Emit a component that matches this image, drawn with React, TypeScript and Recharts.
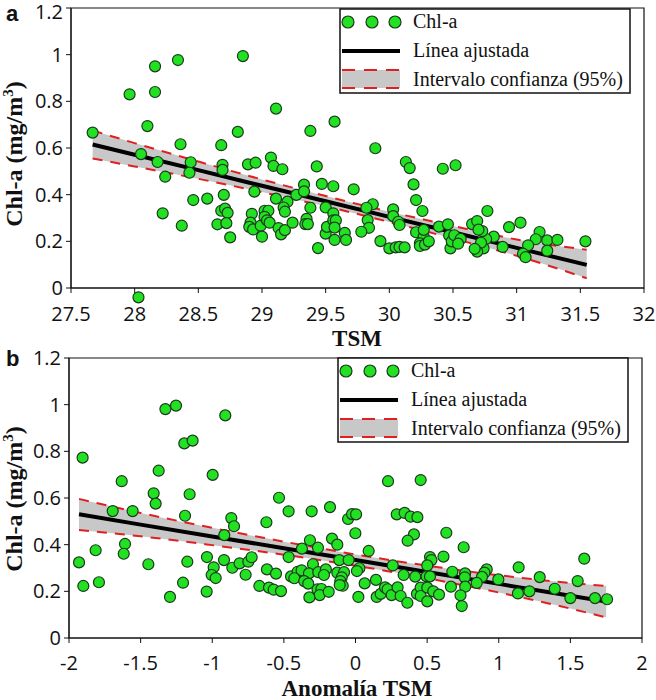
import { ComposedChart, Scatter, Line, Area, XAxis, YAxis, ReferenceArea, ReferenceDot } from "recharts";

// ---- panel a: Chl-a vs TSM ----
const tsmX = [
  27.67, 27.96, 28.16, 28.16, 28.34, 28.1, 28.05, 28.18, 28.24, 28.22, 28.36, 28.44, 28.43, 28.37, 28.46, 28.57,
  28.85, 28.81, 28.68, 28.69, 28.69, 28.7, 28.68, 28.71, 28.73, 28.65, 28.72, 28.75, 28.89, 28.95, 28.94, 28.92,
  28.91, 28.9, 28.93, 28.99, 29.0, 29.11, 29.07, 29.09, 29.16, 29.11, 29.02, 29.05, 29.02, 29.04, 29.06, 29.13,
  29.15, 29.18, 29.2, 29.17, 29.18, 29.24, 29.27, 29.38, 29.43, 29.33, 29.33, 29.38, 29.35, 29.34, 29.36, 29.44,
  29.47, 29.5, 29.5, 29.51, 28.03,
  29.57, 29.89, 30.13, 30.16, 30.42, 30.52, 29.56, 29.72, 30.19, 30.21, 30.26, 30.03, 29.87, 29.82, 29.83, 29.84,
  29.78, 29.93, 30.0, 30.05, 30.08, 30.12, 30.03, 30.07, 30.08, 30.21, 30.27, 30.27, 30.24, 30.24, 30.28, 30.31,
  30.39, 30.46, 30.47, 30.48, 30.49, 30.51, 29.56, 29.56, 29.58, 29.57, 29.57, 29.65, 29.66,
  30.77, 30.65, 30.69, 30.94, 31.03, 31.18, 31.24, 31.32, 31.54, 31.15, 31.09, 31.05, 31.07, 31.24, 30.89, 30.82,
  30.76, 30.73, 30.7, 30.74, 30.72, 30.69, 30.67, 30.56, 30.54,
];
const tsmChl = [
  0.666, 0.83, 0.95, 0.84, 0.977, 0.694, 0.574, 0.54, 0.477, 0.32, 0.616, 0.539, 0.494, 0.267, 0.377, 0.383,
  0.994, 0.669, 0.612, 0.528, 0.506, 0.399, 0.331, 0.34, 0.322, 0.273, 0.278, 0.217, 0.53, 0.537, 0.413, 0.318,
  0.28, 0.262, 0.251, 0.267, 0.22, 0.769, 0.559, 0.523, 0.509, 0.383, 0.331, 0.331, 0.305, 0.29, 0.28, 0.257,
  0.23, 0.248, 0.37, 0.345, 0.327, 0.28, 0.399, 0.673, 0.521, 0.443, 0.414, 0.344, 0.296, 0.274, 0.274, 0.171,
  0.446, 0.345, 0.233, 0.262, -0.04,
  0.713, 0.599, 0.54, 0.514, 0.511, 0.526, 0.436, 0.423, 0.444, 0.377, 0.33, 0.337, 0.359, 0.344, 0.291, 0.258,
  0.241, 0.201, 0.17, 0.174, 0.176, 0.174, 0.308, 0.284, 0.27, 0.239, 0.22, 0.249, 0.191, 0.18, 0.186, 0.2,
  0.263, 0.273, 0.225, 0.17, 0.2, 0.226, 0.32, 0.29, 0.29, 0.259, 0.206, 0.236, 0.206,
  0.33, 0.274, 0.287, 0.261, 0.28, 0.24, 0.204, 0.206, 0.2, 0.209, 0.183, 0.147, 0.132, 0.16, 0.176, 0.22,
  0.21, 0.244, 0.25, 0.17, 0.194, 0.156, 0.168, 0.21, 0.19,
];
const tsmFitX = [27.67, 28, 28.5, 29, 29.5, 30, 30.5, 31, 31.55];
const tsmFit = [0.615, 0.571, 0.505, 0.438, 0.372, 0.305, 0.239, 0.172, 0.099];
const tsmLo = [0.555, 0.521, 0.468, 0.411, 0.35, 0.283, 0.212, 0.138, 0.042];
const tsmHi = [0.675, 0.621, 0.542, 0.465, 0.394, 0.327, 0.266, 0.208, 0.164];
const tsmTicks = [27.5, 28, 28.5, 29, 29.5, 30, 30.5, 31, 31.5, 32];

// ---- panel b: Chl-a vs TSM anomaly ----
const anomX = [
  -1.327, -1.253, -0.909, -1.905, -1.195, -1.137, -1.374, -1.632, -0.997, -1.409, -1.395, -1.158, -1.695, -1.556,
  -1.19, -0.867, -0.848, -0.916, -0.622, -1.609, -1.814, -1.618, -1.93, -1.446, -1.174, -1.037, -0.918, -0.99,
  -1.004, -0.976, -0.86, -0.809, -0.748, -0.725, -0.767, -0.618, -1.9, -1.791, -1.204, -1.039, -1.295, -0.671,
  -0.604,
  0.227, 0.455, -0.534, -0.467, -0.306, -0.178, -0.052, -0.024, 0.004, 0.288, 0.343, 0.385, 0.432, -0.001, 0.408,
  0.364, -0.318, -0.164, -0.127, -0.262, -0.374, 0.092, 0.52, 0.53, -0.467, -0.113, -0.048, -0.297, 0.26, 0.501,
  0.027, 0.01, -0.555, -0.45, -0.404, -0.376, -0.325, -0.26, -0.207, -0.22, -0.127, -0.08, -0.096, 0.336, 0.417,
  0.496, 0.52, -0.427, -0.358, -0.33, -0.106, -0.089, -0.11, 0.143, 0.064, -0.571, -0.52, -0.265, -0.238, -0.25,
  -0.187, -0.322, 0.02, 0.148, 0.176, 0.206, 0.224, 0.252, 0.294, 0.315, 0.362, 0.429, 0.455, 0.455, 0.501, 0.501,
  0.543, 0.583,
  0.634, 0.755, 0.614, 1.597, 0.676, 0.765, 0.763, 0.916, 0.9, 0.883, 0.846, 0.997, 1.139, 1.286, 1.551, 1.391,
  1.214, 1.134, 1.5, 1.672, 1.756, 0.666, 0.766, 0.733, 0.742,
];
const anomChl = [
  0.981, 0.996, 0.954, 0.773, 0.834, 0.846, 0.717, 0.672, 0.699, 0.62, 0.576, 0.616, 0.544, 0.544,
  0.524, 0.514, 0.479, 0.441, 0.496, 0.403, 0.376, 0.361, 0.324, 0.316, 0.327, 0.347, 0.334, 0.303,
  0.27, 0.257, 0.301, 0.32, 0.327, 0.346, 0.271, 0.294, 0.223, 0.239, 0.237, 0.199, 0.176, 0.223,
  0.216,
  0.672, 0.677, 0.601, 0.543, 0.543, 0.561, 0.51, 0.531, 0.53, 0.53, 0.536, 0.52, 0.518, 0.449, 0.444,
  0.417, 0.419, 0.426, 0.4, 0.387, 0.383, 0.373, 0.347, 0.334, 0.347, 0.334, 0.334, 0.316, 0.311, 0.311,
  0.299, 0.287, 0.276, 0.264, 0.284, 0.29, 0.277, 0.282, 0.294, 0.27, 0.28, 0.282, 0.26, 0.27, 0.263,
  0.264, 0.264, 0.256, 0.244, 0.233, 0.244, 0.224, 0.227, 0.249, 0.234, 0.207, 0.201, 0.208, 0.21, 0.184,
  0.198, 0.174, 0.176, 0.176, 0.189, 0.217, 0.209, 0.184, 0.217, 0.18, 0.151, 0.189, 0.216, 0.18, 0.216, 0.157,
  0.2, 0.186,
  0.451, 0.389, 0.349, 0.34, 0.284, 0.277, 0.26, 0.294, 0.28, 0.262, 0.236, 0.251, 0.303, 0.261, 0.244, 0.211,
  0.2, 0.191, 0.171, 0.171, 0.166, 0.22, 0.22, 0.183, 0.137,
];
const anomFitX = [-1.93, -1.5, -1, -0.5, 0, 0.5, 1, 1.5, 1.75];
const anomFit = [0.53, 0.486, 0.435, 0.385, 0.334, 0.283, 0.232, 0.181, 0.156];
const anomLo = [0.463, 0.436, 0.398, 0.357, 0.31, 0.256, 0.195, 0.126, 0.088];
const anomHi = [0.596, 0.536, 0.472, 0.413, 0.358, 0.31, 0.269, 0.236, 0.223];
const anomTicks = [-2, -1.5, -1, -0.5, 0, 0.5, 1, 1.5, 2];

const chlTicks = [0, 0.2, 0.4, 0.6, 0.8, 1, 1.2];

const GREEN = "#22e022";
const DOT_STROKE = "#1b3a1b";
const SERIF = "'Liberation Serif', 'Times New Roman', serif";
const TICK_FONT = "'Open Sans', sans-serif";

const GreenDot = (props: any) => (
  <circle cx={props.cx} cy={props.cy} r={5.5} fill={GREEN} stroke={DOT_STROKE} strokeWidth={1.2} />
);

interface PanelProps {
  letter: string;
  xLabel: string;
  xs: number[];
  ys: number[];
  fitX: number[];
  fit: number[];
  lo: number[];
  hi: number[];
  xTicks: number[];
  top: number;
  height: number;
  marginTop: number;
  marginRight: number;
  yAxisWidth: number;
  xAxisHeight: number;
  tickMargin: number;
  legendLeft: number;
  legendTop: number;
  xLabelY: number;
}

const LegendBox = ({ left, top }: { left: number; top: number }) => {
  const rows = [top + 19, top + 48, top + 77];
  return (
    <g>
      <rect x={left} y={top} width={290} height={84} fill="#fff" stroke="#111" strokeWidth={1.5} />
      {[8, 32, 55].map((dx) => (
        <circle key={dx} cx={left + dx} cy={rows[0] - 6} r={6} fill={GREEN} stroke={DOT_STROKE} strokeWidth={1.2} />
      ))}
      <line x1={left + 2} x2={left + 60} y1={rows[1] - 6} y2={rows[1] - 6} stroke="#000" strokeWidth={4} />
      <rect x={left + 2} y={rows[2] - 16} width={58} height={18} fill="#c8c8c8" />
      <line x1={left + 2} x2={left + 60} y1={rows[2] - 16} y2={rows[2] - 16} stroke="#e02020" strokeWidth={2} strokeDasharray="13 9" />
      <line x1={left + 2} x2={left + 60} y1={rows[2] + 2} y2={rows[2] + 2} stroke="#e02020" strokeWidth={2} strokeDasharray="13 9" />
      {["Chl-a", "Línea ajustada", "Intervalo confianza (95%)"].map((t, i) => (
        <text key={t} x={left + 73} y={rows[i]} fontFamily={SERIF} fontSize={20} fill="#111">
          {t}
        </text>
      ))}
    </g>
  );
};

const Panel = (p: PanelProps) => {
  const points = p.xs.map((x, i) => ({ x, y: p.ys[i] }));
  const inside = points.filter((d) => d.y >= 0);
  const below = points.filter((d) => d.y < 0);
  const band = p.fitX.map((x, i) => ({ x, fit: p.fit[i], lo: p.lo[i], hi: p.hi[i], range: [p.lo[i], p.hi[i]] }));
  const xMin = p.xTicks[0];
  const xMax = p.xTicks[p.xTicks.length - 1];

  return (
    <div style={{ position: "absolute", left: 0, top: p.top, width: 656, height: p.height }}>
      <ComposedChart
        width={656}
        height={p.height}
        margin={{ top: p.marginTop, right: p.marginRight, bottom: 0, left: 0 }}
        style={{ overflow: "visible" }}
      >
        <XAxis
          type="number"
          dataKey="x"
          domain={[xMin, xMax]}
          ticks={p.xTicks}
          allowDataOverflow
          height={p.xAxisHeight}
          tickSize={5}
          tickMargin={p.tickMargin}
          stroke="#111"
          tick={{ fill: "#111", fontSize: 20, fontFamily: TICK_FONT }}
        />
        <YAxis
          type="number"
          dataKey="y"
          domain={[0, 1.2]}
          ticks={chlTicks}
          allowDataOverflow
          width={p.yAxisWidth}
          tickSize={5}
          tickMargin={3}
          stroke="#111"
          tick={{ fill: "#111", fontSize: 20, fontFamily: TICK_FONT }}
        />
        <Area
          data={band}
          dataKey="range"
          type="monotone"
          fill="#c8c8c8"
          fillOpacity={1}
          stroke="none"
          isAnimationActive={false}
        />
        <Scatter data={inside} shape={GreenDot} isAnimationActive={false} />
        <Line data={band} dataKey="hi" type="monotone" stroke="#e02020" strokeWidth={2} strokeDasharray="10 8" dot={false} isAnimationActive={false} />
        <Line data={band} dataKey="lo" type="monotone" stroke="#e02020" strokeWidth={2} strokeDasharray="10 8" dot={false} isAnimationActive={false} />
        <Line data={band} dataKey="fit" type="linear" stroke="#000" strokeWidth={4} dot={false} isAnimationActive={false} />
        {below.map((d, i) => (
          <ReferenceDot
            key={i}
            x={d.x}
            y={d.y}
            r={5.5}
            fill={GREEN}
            stroke={DOT_STROKE}
            strokeWidth={1.2}
            ifOverflow="visible"
          />
        ))}
        <ReferenceArea x1={xMin} x2={xMax} y1={0} y2={1.2} fill="none" stroke="#111" strokeWidth={1.2} />
      </ComposedChart>
      <svg
        width={656}
        height={p.height + 20}
        style={{ position: "absolute", left: 0, top: 0, pointerEvents: "none", overflow: "visible" }}
      >
        <text x={6} y={21} fontFamily="'Liberation Sans', Arial, sans-serif" fontWeight="bold" fontSize={22} fill="#111">
          {p.letter}
        </text>
        <text
          x={22}
          y={154}
          transform="rotate(-90 22 154)"
          textAnchor="middle"
          fontFamily={SERIF}
          fontWeight="bold"
          fontSize={24}
          fill="#111"
        >
          Chl-a (mg/m<tspan dy={-9} fontSize={15}>3</tspan>
          <tspan dy={9}>)</tspan>
        </text>
        <text x={357} y={p.xLabelY} textAnchor="middle" fontFamily={SERIF} fontWeight="bold" fontSize={23} fill="#111">
          {p.xLabel}
        </text>
        <LegendBox left={p.legendLeft} top={p.legendTop} />
      </svg>
    </div>
  );
}

export default function App() {
  return (
    <div style={{ position: "absolute", left: 0, top: 0, width: 656, height: 700, background: "#fff" }}>
      <Panel
        letter="a"
        xLabel="TSM"
        xs={tsmX}
        ys={tsmChl}
        fitX={tsmFitX}
        fit={tsmFit}
        lo={tsmLo}
        hi={tsmHi}
        xTicks={tsmTicks}
        top={0}
        height={345}
        marginTop={8}
        marginRight={12}
        yAxisWidth={71}
        xAxisHeight={57}
        tickMargin={14}
        legendLeft={340}
        legendTop={9}
        xLabelY={346}
      />
      <Panel
        letter="b"
        xLabel="Anomalía TSM"
        xs={anomX}
        ys={anomChl}
        fitX={anomFitX}
        fit={anomFit}
        lo={anomLo}
        hi={anomHi}
        xTicks={anomTicks}
        top={345}
        height={355}
        marginTop={13}
        marginRight={14}
        yAxisWidth={69}
        xAxisHeight={62}
        tickMargin={13}
        legendLeft={338}
        legendTop={13}
        xLabelY={351}
      />
    </div>
  );
}
